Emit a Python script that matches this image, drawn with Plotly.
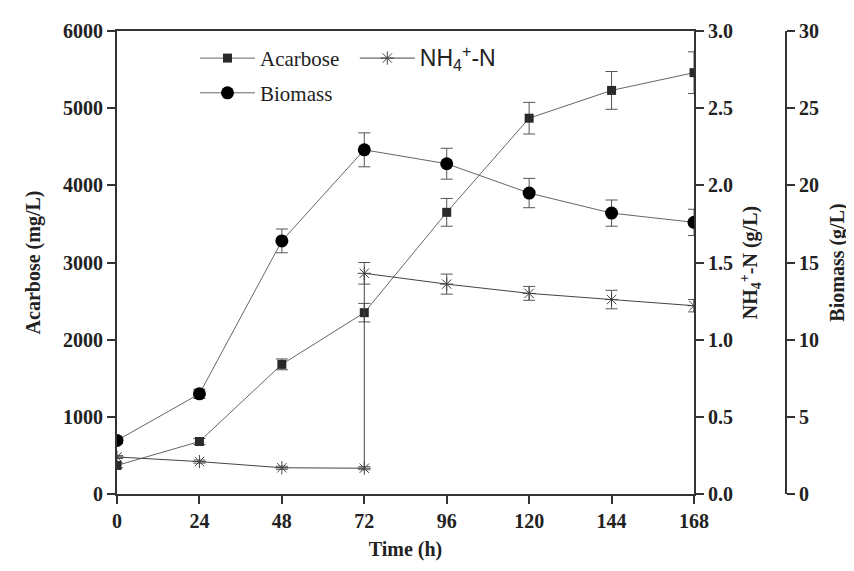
import plotly.graph_objects as go

time_h = [0, 24, 48, 72, 96, 120, 144, 168]
acarbose = [370, 680, 1680, 2350, 3650, 4870, 5230, 5460]
acarbose_err = [30, 40, 70, 120, 180, 205, 245, 270]
biomass = [3.47, 6.49, 16.4, 22.3, 21.4, 19.5, 18.2, 17.6]
biomass_err = [0.2, 0.3, 0.77, 1.1, 1.0, 0.95, 0.85, 0.85]
nh4_time = [0, 24, 48, 72, 72, 96, 120, 144, 168]
nh4 = [0.24, 0.21, 0.17, 0.167, 1.43, 1.36, 1.30, 1.26, 1.22]
nh4_err = [0.01, 0.01, 0.01, 0.01, 0.07, 0.065, 0.045, 0.06, 0.04]
x_ticks = [0, 24, 48, 72, 96, 120, 144, 168]

SERIF = "Liberation Serif, Times New Roman, serif"
AX = "#333333"
tickfont = dict(family=SERIF, size=20, color="#222", weight="bold")
titlefont = dict(family=SERIF, size=20, color="#222")

OFF = 8  # page body margin
L, T, B, R = 117 - OFF, 27 - OFF, 77 + OFF, 40 - OFF
paper_w = 854 - L - R
paper_h = 571 - T - B

fig = go.Figure()
fig.add_trace(go.Scatter(
    x=time_h, y=acarbose, name="Acarbose&#160;&#160;", mode="lines+markers",
    line=dict(color="#666", width=1),
    marker=dict(symbol="square", size=9, color="#2a2a2a"),
    error_y=dict(type="data", array=acarbose_err, color="#555", thickness=1, width=6),
    legend="legend",
))
fig.add_trace(go.Scatter(
    x=nh4_time, y=nh4,
    name='<span style="font-family:Liberation Sans, Arial, sans-serif;font-size:23px">NH<sub>4</sub><sup>+</sup>-N</span>',
    mode="lines+markers", yaxis="y2",
    line=dict(color="#444", width=1),
    marker=dict(symbol="asterisk-open", size=11, line=dict(color="#444", width=1)),
    error_y=dict(type="data", array=nh4_err, color="#555", thickness=1, width=6),
    legend="legend",
))
fig.add_trace(go.Scatter(
    x=time_h, y=biomass, name="Biomass", mode="lines+markers", yaxis="y3",
    line=dict(color="#666", width=1),
    marker=dict(symbol="circle", size=13, color="#000"),
    error_y=dict(type="data", array=biomass_err, color="#555", thickness=1, width=6),
    legend="legend2",
))

dom_end = (694 - 117) / paper_w
pos3 = (786 - 117) / paper_w

fig.update_layout(
    width=854, height=571,
    margin=dict(l=L, r=R, t=T, b=B),
    paper_bgcolor="white", plot_bgcolor="white",
    xaxis=dict(
        domain=[0, dom_end], range=[0, 168], tickvals=x_ticks,
        showline=True, linecolor=AX, linewidth=2, mirror=True,
        ticks="outside", ticklen=8, tickwidth=2, tickcolor=AX,
        showgrid=False, zeroline=False, tickfont=tickfont,
        title=dict(text="<b>Time (h)</b>", font=titlefont, standoff=11),
    ),
    yaxis=dict(
        range=[0, 6000], dtick=1000,
        showline=True, linecolor=AX, linewidth=2,
        ticks="outside", ticklen=8, tickwidth=2, tickcolor=AX,
        showgrid=False, zeroline=False, tickfont=tickfont,
        title=dict(text="<b>Acarbose (mg/L)</b>", font=titlefont, standoff=17),
    ),
    yaxis2=dict(
        range=[0, 3.0], dtick=0.5, tickformat=".1f",
        overlaying="y", side="right", anchor="x",
        showline=True, linecolor=AX, linewidth=2,
        ticks="outside", ticklen=8, tickwidth=2, tickcolor=AX,
        showgrid=False, zeroline=False, tickfont=tickfont,
        title=dict(text="<b>NH<sub>4</sub><sup>+</sup>-N (g/L)</b>", font=titlefont, standoff=11),
    ),
    yaxis3=dict(
        range=[0, 30], dtick=5,
        overlaying="y", side="right", anchor="free", position=pos3,
        showline=True, linecolor=AX, linewidth=2,
        ticks="outside", ticklen=8, tickwidth=2, tickcolor=AX,
        showgrid=False, zeroline=False, tickfont=tickfont,
        title=dict(text="<b>Biomass (g/L)</b>", font=titlefont, standoff=11),
    ),
    legend=dict(
        orientation="h", x=(195 - 117) / paper_w, y=(494 - 34) / paper_h, xanchor="left", yanchor="top",
        xref="paper", yref="paper",
        font=dict(family=SERIF, size=21, color="#222"), bgcolor="rgba(0,0,0,0)",
        itemwidth=55,
    ),
    legend2=dict(
        orientation="h", x=(195 - 117) / paper_w, y=(494 - 69) / paper_h, xanchor="left", yanchor="top",
        xref="paper", yref="paper",
        font=dict(family=SERIF, size=21, color="#222"), bgcolor="rgba(0,0,0,0)",
        itemwidth=55,
    ),
)

fig.write_html("out.html")
